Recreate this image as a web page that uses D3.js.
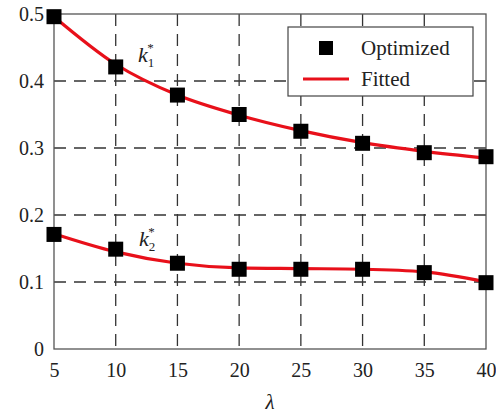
<!DOCTYPE html>
<html><head><meta charset="utf-8">
<script src="https://cdn.jsdelivr.net/npm/d3@7"></script>
<style>body{margin:0;background:#fff} text{font-family:"Liberation Serif","DejaVu Serif",serif}</style>
</head><body><svg id="c" width="496" height="418"></svg>
<script>
const lambdas = [5, 10, 15, 20, 25, 30, 35, 40];
const k1Optimized = [0.496, 0.421, 0.379, 0.350, 0.325, 0.307, 0.293, 0.287];
const k2Optimized = [0.171, 0.149, 0.128, 0.119, 0.119, 0.119, 0.114, 0.099];
const k1Fitted = [0.496, 0.425, 0.379, 0.349, 0.326, 0.308, 0.295, 0.285];
const k2Fitted = [0.172, 0.145, 0.128, 0.121, 0.120, 0.119, 0.115, 0.100];
const xTicks = [5, 10, 15, 20, 25, 30, 35, 40];
const yTicks = [0, 0.1, 0.2, 0.3, 0.4, 0.5];

const svg = d3.select("#c");
const L = 54, R = 486, T = 14, B = 349;
const x = d3.scaleLinear().domain([5, 40]).range([L, R]);
const y = d3.scaleLinear().domain([0, 0.5]).range([B, T]);
const font = '"Liberation Serif","DejaVu Serif",serif';

// grid
const g = svg.append("g");
g.selectAll(".gx").data(xTicks.slice(1, -1)).enter().append("line")
  .attr("x1", d => x(d)).attr("x2", d => x(d)).attr("y1", T).attr("y2", B)
  .attr("stroke", "#333").attr("stroke-width", 1.3).attr("stroke-dasharray", "12,8");
g.selectAll(".gy").data(yTicks.slice(1, -1)).enter().append("line")
  .attr("y1", d => y(d)).attr("y2", d => y(d)).attr("x1", L).attr("x2", R)
  .attr("stroke", "#333").attr("stroke-width", 1.3).attr("stroke-dasharray", "12,8");

// frame
svg.append("rect").attr("x", L).attr("y", T).attr("width", R - L).attr("height", B - T)
  .attr("fill", "none").attr("stroke", "#555").attr("stroke-width", 1.3);

// axes labels
const xa = svg.append("g").attr("transform", `translate(0,${B})`)
  .call(d3.axisBottom(x).tickValues(xTicks).tickSize(0).tickPadding(14).tickFormat(d3.format("d")));
xa.attr("font-family", null);
xa.select(".domain").remove();
xa.selectAll("text").style("font-family", font).attr("font-size", 20).attr("fill", "#222");
const ya = svg.append("g").attr("transform", `translate(${L},0)`)
  .call(d3.axisLeft(y).tickValues(yTicks).tickSize(0).tickPadding(10).tickFormat(d => d === 0 ? "0" : d3.format(".1f")(d)));
ya.attr("font-family", null);
ya.select(".domain").remove();
ya.selectAll("text").style("font-family", font).attr("font-size", 20).attr("fill", "#222");

svg.append("text").attr("x", 270).attr("y", 409).style("font-family", font).attr("font-style", "italic")
  .attr("font-size", 21).attr("fill", "#222").attr("text-anchor", "middle").text("λ");

// fitted lines
const line = d3.line().x((d, i) => x(lambdas[i])).y(d => y(d)).curve(d3.curveMonotoneX);
[k1Fitted, k2Fitted].forEach(s => {
  svg.append("path").attr("d", line(s)).attr("fill", "none").attr("stroke", "#e8101a").attr("stroke-width", 3.2);
});

// markers
const sz = 15;
[k1Optimized, k2Optimized].forEach(s => {
  svg.append("g").selectAll("rect").data(s).enter().append("rect")
    .attr("x", (d, i) => x(lambdas[i]) - sz / 2).attr("y", d => y(d) - sz / 2)
    .attr("width", sz).attr("height", sz).attr("fill", "#000");
});

// k labels
function klabel(px, py, sub) {
  const t = svg.append("text").attr("x", px).attr("y", py).style("font-family", font).attr("fill", "#222");
  t.append("tspan").attr("font-style", "italic").attr("font-size", 22).text("k");
  t.append("tspan").attr("font-size", 13).attr("dx", 0).attr("dy", 5).text(sub);
  t.append("tspan").attr("font-size", 13).attr("dx", -7).attr("dy", -15).text("*");
}
klabel(138, 62, "1");
klabel(139, 246, "2");

// legend
const lg = svg.append("g");
lg.append("rect").attr("x", 288).attr("y", 27).attr("width", 185).attr("height", 69)
  .attr("fill", "#fff").attr("stroke", "#444").attr("stroke-width", 1.2);
lg.append("rect").attr("x", 319).attr("y", 41).attr("width", 14).attr("height", 14).attr("fill", "#000");
lg.append("line").attr("x1", 303).attr("x2", 349).attr("y1", 79).attr("y2", 79)
  .attr("stroke", "#e8101a").attr("stroke-width", 3.2);
lg.append("text").attr("x", 361).attr("y", 55).style("font-family", font).attr("font-size", 21).attr("fill", "#222").text("Optimized");
lg.append("text").attr("x", 361).attr("y", 86).style("font-family", font).attr("font-size", 21).attr("fill", "#222").text("Fitted");
</script></body></html>
